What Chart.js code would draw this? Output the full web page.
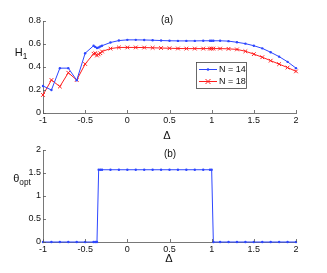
<!DOCTYPE html>
<html>
<head>
<meta charset="utf-8">
<script src="https://cdn.jsdelivr.net/npm/chart.js@4/dist/chart.umd.min.js"></script>
<style>
  html, body { margin: 0; padding: 0; background: #fff; }
  #wrap { position: relative; width: 327px; height: 273px; overflow: hidden; font-family: "Liberation Sans", Arial, sans-serif; color: #111; }
  canvas { position: absolute; left: 0; }
  .lbl { position: absolute; transform: translate(-50%, -50%); white-space: nowrap; line-height: 1; }
  .lbl sub { font-size: 0.75em; vertical-align: -0.35em; }
</style>
</head>
<body>
<div id="wrap">
  <canvas id="top" width="327" height="137" style="top:0;width:327px;height:137px"></canvas>
  <canvas id="bot" width="327" height="136" style="top:137px;width:327px;height:136px"></canvas>
  <div class="lbl" style="left:167px;top:20px;font-size:10px">(a)</div>
  <div class="lbl" style="left:21px;top:54px;font-size:11px">H<sub>1</sub></div>
  <div class="lbl" style="left:167px;top:135px;font-size:11px">&Delta;</div>
  <div class="lbl" style="left:170px;top:154px;font-size:10px">(b)</div>
  <div class="lbl" style="left:22px;top:180px;font-size:11px">&theta;<sub>opt</sub></div>
  <div class="lbl" style="left:169px;top:258px;font-size:11px">&Delta;</div>
</div>
<script>
// Δ grid shared by all series
const DELTA = [-1, -0.9, -0.8, -0.7, -0.6, -0.5, -0.4, -0.38, -0.36, -0.34, -0.32, -0.3,
  -0.2, -0.1, 0, 0.1, 0.2, 0.3, 0.4, 0.5, 0.6, 0.7, 0.8, 0.9, 0.98, 1, 1.02,
  1.1, 1.2, 1.3, 1.4, 1.5, 1.6, 1.7, 1.8, 1.9, 2];

// (a) H_1
const H_N14 = [0.235, 0.2, 0.39, 0.39, 0.285, 0.52, 0.585, 0.575, 0.565, 0.57, 0.578, 0.585,
  0.613, 0.63, 0.636, 0.636, 0.635, 0.633, 0.63, 0.628, 0.627, 0.627, 0.627, 0.628, 0.628, 0.628, 0.628,
  0.628, 0.625, 0.615, 0.603, 0.585, 0.562, 0.528, 0.49, 0.445, 0.39];
const H_N18 = [0.157, 0.287, 0.23, 0.35, 0.287, 0.426, 0.515, 0.52, 0.5, 0.51, 0.52, 0.535,
  0.56, 0.57, 0.57, 0.57, 0.569, 0.567, 0.565, 0.563, 0.561, 0.56, 0.56, 0.56, 0.56, 0.56, 0.56,
  0.56, 0.558, 0.553, 0.537, 0.512, 0.485, 0.455, 0.425, 0.395, 0.362];

// (b) theta_opt
const THETA = [0, 0, 0, 0, 0, 0, 0, 0, 0, 1.5708, 1.5708, 1.5708,
  1.5708, 1.5708, 1.5708, 1.5708, 1.5708, 1.5708, 1.5708, 1.5708, 1.5708, 1.5708, 1.5708, 1.5708, 1.5708, 1.5708, 0,
  0, 0, 0, 0, 0, 0, 0, 0, 0, 0];

const X_TICKS = [-1, -0.5, 0, 0.5, 1, 1.5, 2];
const SERIES_NAMES = ["N = 14", "N = 18"];

const BLUE = "rgb(45,70,255)";
const RED = "rgb(255,30,30)";
const AXIS = "#555";
const FONT = { family: "'Liberation Sans', Arial, sans-serif", size: 9 };

function pts(ys){ return DELTA.map((x, i) => ({ x: x, y: ys[i] })); }
function fmt(v){ return String(+Number(v).toFixed(2)); }

// MATLAB style ticks pointing into the axes
const inwardTicks = {
  id: "inwardTicks",
  afterDraw(chart){
    const { ctx, chartArea: a, scales } = chart;
    ctx.save();
    ctx.strokeStyle = AXIS;
    ctx.lineWidth = 0.8;
    ctx.beginPath();
    scales.x.ticks.forEach((t, i) => {
      const px = Math.round(scales.x.getPixelForTick(i)) + 0.5;
      ctx.moveTo(px, a.bottom); ctx.lineTo(px, a.bottom - 3);
    });
    scales.y.ticks.forEach((t, i) => {
      const py = Math.round(scales.y.getPixelForTick(i)) + 0.5;
      ctx.moveTo(a.left, py); ctx.lineTo(a.left + 3, py);
    });
    ctx.stroke();
    ctx.restore();
  }
};

// boxed legend inside plot (a)
const boxLegend = {
  id: "boxLegend",
  afterDraw(chart, args, opts){
    if (!opts.show) return;
    const ctx = chart.ctx;
    const x0 = 196, y0 = 62, w = 50, h = 26;
    ctx.save();
    ctx.fillStyle = "#fff";
    ctx.fillRect(x0, y0, w, h);
    ctx.strokeStyle = "#444";
    ctx.lineWidth = 0.8;
    ctx.strokeRect(x0 + 0.5, y0 + 0.5, w, h);
    ctx.font = "9px 'Liberation Sans', Arial, sans-serif";
    ctx.textBaseline = "middle";
    chart.data.datasets.forEach((ds, i) => {
      const y = y0 + 7.5 + i * 12;
      ctx.strokeStyle = ds.borderColor;
      ctx.lineWidth = 1;
      ctx.beginPath(); ctx.moveTo(x0 + 3, y); ctx.lineTo(x0 + 21, y); ctx.stroke();
      if (ds.pointStyle === "crossRot"){
        ctx.beginPath();
        ctx.moveTo(x0 + 9.5, y - 2.5); ctx.lineTo(x0 + 14.5, y + 2.5);
        ctx.moveTo(x0 + 9.5, y + 2.5); ctx.lineTo(x0 + 14.5, y - 2.5);
        ctx.stroke();
      } else {
        ctx.fillStyle = ds.borderColor;
        ctx.beginPath(); ctx.arc(x0 + 12, y, 1.3, 0, Math.PI * 2); ctx.fill();
      }
      ctx.fillStyle = "#111";
      ctx.fillText(ds.label, x0 + 23, y + 0.5);
    });
    ctx.restore();
  }
};

function makeOptions(ymax, ystep, padTop, xHeight, legend){
  return {
    responsive: false,
    animation: false,
    layout: { padding: { top: padTop, right: 31, left: 0, bottom: 0 } },
    plugins: {
      legend: { display: false },
      tooltip: { enabled: false },
      boxLegend: { show: legend }
    },
    scales: {
      x: {
        type: "linear", min: -1, max: 2,
        afterBuildTicks: s => { s.ticks = X_TICKS.map(v => ({ value: v })); },
        afterFit: s => { s.height = xHeight; },
        grid: { display: false, drawTicks: false },
        border: { display: true, color: AXIS, width: 0.8 },
        ticks: { font: FONT, color: "#111", padding: 2, maxRotation: 0, autoSkip: false, callback: fmt }
      },
      y: {
        type: "linear", min: 0, max: ymax,
        afterFit: s => { s.width = 43; },
        grid: { display: false, drawTicks: false },
        border: { display: true, color: AXIS, width: 0.8 },
        ticks: { font: FONT, color: "#111", padding: 2, stepSize: ystep, callback: fmt }
      }
    }
  };
}

new Chart(document.getElementById("top"), {
  type: "scatter",
  data: {
    datasets: [
      { label: SERIES_NAMES[0], data: pts(H_N14), showLine: true, borderColor: BLUE, backgroundColor: BLUE,
        borderWidth: 1, pointStyle: "circle", pointRadius: 1.2, pointBorderWidth: 0, clip: false },
      { label: SERIES_NAMES[1], data: pts(H_N18), showLine: true, borderColor: RED, backgroundColor: RED,
        borderWidth: 1, pointStyle: "crossRot", pointRadius: 2.6, pointBorderWidth: 1, clip: false }
    ]
  },
  options: makeOptions(0.8, 0.2, 21, 24, true),
  plugins: [inwardTicks, boxLegend]
});

new Chart(document.getElementById("bot"), {
  type: "scatter",
  data: {
    datasets: [
      { label: "theta_opt", data: pts(THETA), showLine: true, borderColor: BLUE, backgroundColor: BLUE,
        borderWidth: 1, pointStyle: "circle", pointRadius: 1.2, pointBorderWidth: 0, clip: false }
    ]
  },
  options: makeOptions(2, 0.5, 13, 31, false),
  plugins: [inwardTicks, boxLegend]
});
</script>
</body>
</html>
